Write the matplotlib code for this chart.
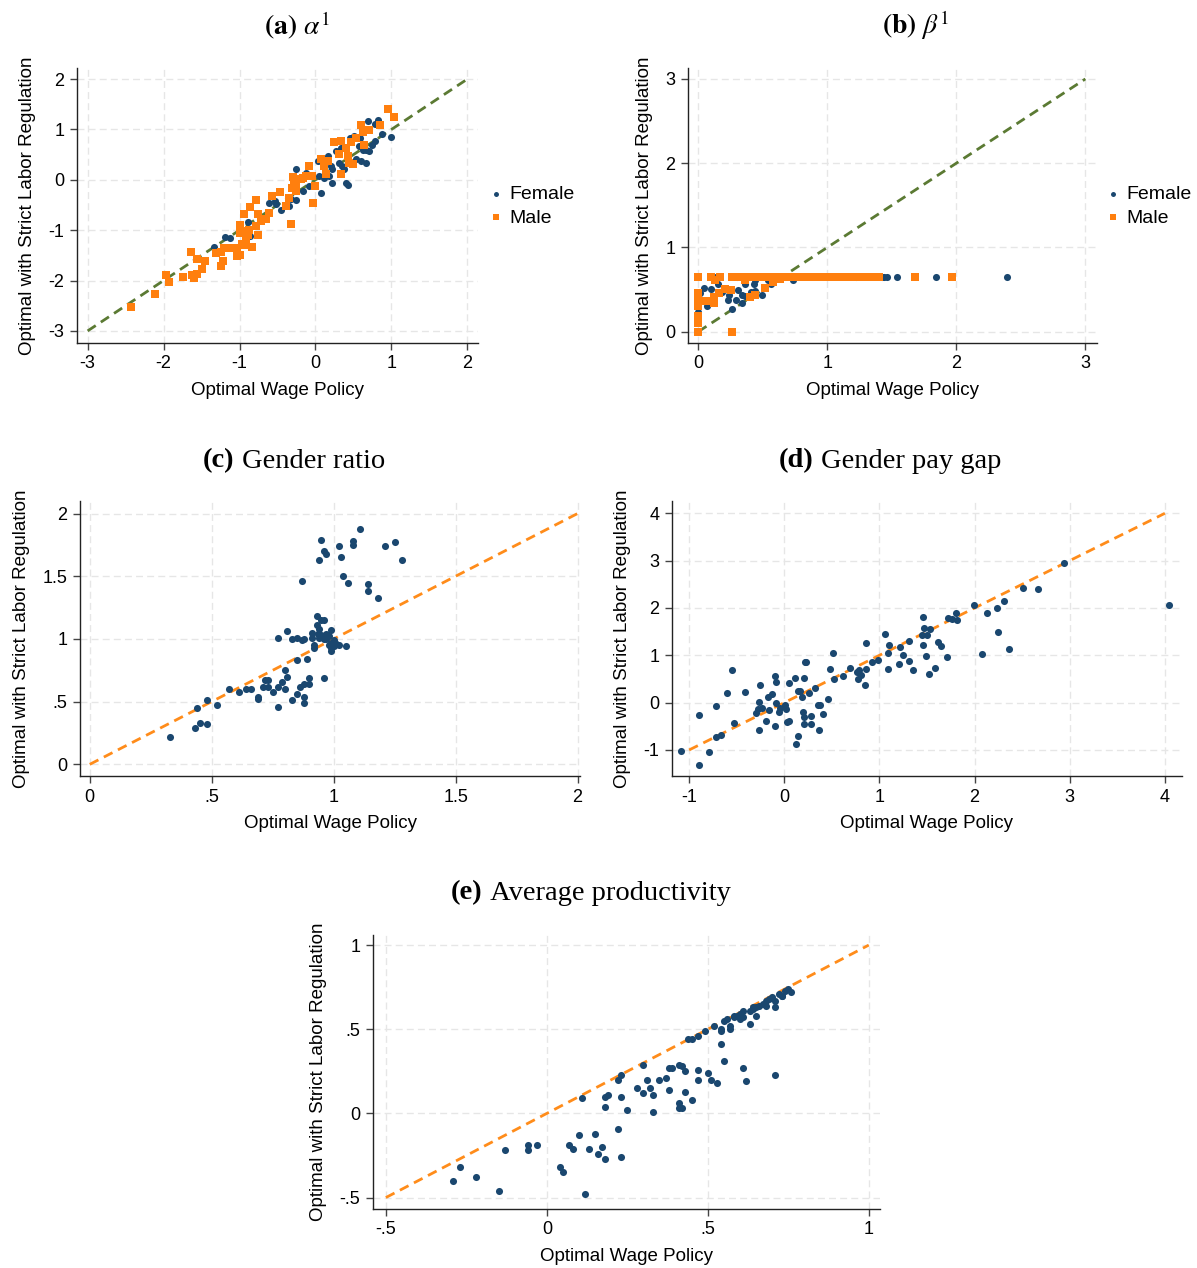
import matplotlib
matplotlib.use("Agg")
import matplotlib.pyplot as plt
import numpy as np

plt.rcParams['font.family'] = ['Liberation Sans', 'DejaVu Sans']
plt.rcParams['mathtext.fontset'] = 'stix'

NAVY = '#1a476f'
ORANGE = '#ff7f0e'
ORANGE_LINE = '#ff8c1a'
GREEN_LINE = '#5b7a33'
GRID = '#e6e6e6'

# ---------------- Panel (a): alpha^1 ----------------
a_male_x = [-2.43, -2.11, -1.97, -1.93, -1.74, -1.64, -1.62, -1.60, -1.56, -1.56, -1.49, -1.45,
            -1.31, -1.25, -1.20, -1.13, -1.22, -1.24, -1.03, -1.00, -0.97, -0.94, -0.92, -0.99,
            -0.96, -0.89, -0.87, -0.83, -0.76, -0.78, -0.99, -0.94, -0.86, -0.78, -0.76, -0.72,
            -0.65, -0.61, -0.57, -0.47, -0.39, -0.35, -0.32, -0.31, -0.28, -0.26, -0.25, -0.21,
            -0.17, -0.13, -0.08, -0.04, -0.03, 0.00, 0.07, 0.11, 0.14, 0.25, 0.34, 0.31, 0.40,
            0.43, 0.44, 0.47, 0.49, 0.54, 0.60, 0.62, 0.64, 0.70, 0.85, 0.96, 1.03, 0.33, 0.16,
            -1.03, -0.30, -0.19]
a_male_y = [-2.52, -2.26, -1.88, -2.02, -1.92, -1.44, -1.89, -1.94, -1.87, -1.57, -1.78, -1.61,
            -1.45, -1.44, -1.36, -1.35, -1.61, -1.72, -1.36, -1.50, -1.27, -1.29, -1.22, -1.06,
            -1.02, -1.09, -0.99, -1.34, -1.09, -0.92, -0.90, -0.67, -0.54, -0.41, -0.67, -0.82,
            -0.78, -0.66, -0.33, -0.25, -0.52, -0.36, -0.88, -0.16, -0.11, -0.23, -0.09, 0.01,
            0.04, 0.07, 0.27, 0.07, -0.46, -0.13, 0.41, 0.27, 0.11, 0.75, 0.77, 0.52, 0.64,
            0.47, 0.34, 0.75, 0.31, 0.84, 1.08, 0.94, 0.70, 0.99, 1.09, 1.40, 1.24, 0.11, 0.37,
            -1.52, 0.06, 0.01]
a_female_x = [-1.34, -1.19, -1.13, -0.89, -0.86, -0.61, -0.53, -0.45, -0.52, -0.32, -0.26, -0.17,
              -0.13, -0.08, 0.03, 0.07, 0.05, 0.11, 0.17, 0.18, 0.20, 0.22, 0.27, 0.33, 0.35,
              0.38, 0.40, 0.43, 0.46, 0.51, 0.53, 0.57, 0.58, 0.60, 0.62, 0.66, 0.67, 0.69,
              0.71, 0.75, 0.79, 0.82, 0.78, 0.87, 0.99, 0.31, 0.22, -0.26, -0.35]
a_female_y = [-1.33, -1.14, -1.16, -0.84, -1.12, -0.47, -0.42, -0.59, -0.49, -0.39, 0.21, -0.23,
              0.14, -0.13, 0.37, -0.27, 0.07, 0.04, 0.48, 0.07, 0.27, -0.06, 0.57, 0.64, 0.27,
              0.21, -0.06, -0.11, 0.84, 0.87, 0.41, 0.68, 0.84, 0.37, 0.60, 0.33, 0.60, 1.17,
              0.57, 0.70, 0.77, 1.19, 1.10, 0.90, 0.85, 0.34, 0.21, -0.41, -0.52]

# ---------------- Panel (b): beta^1 ----------------
b_male_x = [0.00, 0.00, 0.00, 0.00, 0.00, 0.00, 0.00, 0.06, 0.12, 0.12, 0.13, 0.16, 0.21, 0.25,
            0.26, 0.36, 0.40, 0.44, 0.52, 0.58, 0.63,
            0.00, 0.10, 0.17, 0.26, 0.31, 0.33, 0.35, 0.37, 0.39, 0.41, 0.43, 0.45, 0.47, 0.50,
            0.52, 0.54, 0.57, 0.59, 0.62, 0.64, 0.67, 0.70, 0.72, 0.75, 0.78, 0.80, 0.83,
            0.86, 0.88, 0.91, 0.94, 0.97, 1.00, 1.03, 1.06, 1.09, 1.12, 1.15, 1.18, 1.21,
            1.24, 1.27, 1.30, 1.33, 1.36, 1.39, 1.40, 1.68, 1.97]
b_male_y = [0.46, 0.38, 0.30, 0.18, 0.10, 0.00, 0.42, 0.36, 0.41, 0.34, 0.61, 0.46, 0.51, 0.49,
            0.00, 0.61, 0.41, 0.44, 0.52, 0.59, 0.63,
            0.654, 0.654, 0.654, 0.654, 0.654, 0.654, 0.654, 0.654, 0.654, 0.654, 0.654, 0.654,
            0.654, 0.654, 0.654, 0.654, 0.654, 0.654, 0.654, 0.654, 0.654, 0.654, 0.654, 0.654,
            0.654, 0.654, 0.654, 0.654, 0.654, 0.654, 0.654, 0.654, 0.654, 0.654, 0.654, 0.654,
            0.654, 0.654, 0.654, 0.654, 0.654, 0.654, 0.654, 0.654, 0.654, 0.654, 0.654, 0.654,
            0.654]
b_female_x = [0.044, 0.013, 0.07, 0.10, 0.15, 0.18, 0.23, 0.24, 0.26, 0.29, 0.31, 0.34, 0.34,
              0.36, 0.36, 0.41, 0.43, 0.44, 0.44, 0.49, 0.54, 0.56, 0.73, 0.00,
              0.14, 0.30, 0.52, 0.74, 1.22, 1.42, 1.44, 1.46, 1.54, 1.84, 2.39]
b_female_y = [0.52, 0.46, 0.31, 0.51, 0.57, 0.47, 0.37, 0.44, 0.27, 0.37, 0.50, 0.34, 0.44,
              0.42, 0.57, 0.47, 0.57, 0.61, 0.48, 0.44, 0.61, 0.57, 0.61, 0.23,
              0.654, 0.654, 0.654, 0.654, 0.654, 0.654, 0.654, 0.654, 0.654, 0.654, 0.654]

# ---------------- Panel (c): Gender ratio ----------------
c_x = [0.33, 0.43, 0.45, 0.48, 0.44, 0.48, 0.52, 0.57, 0.61, 0.64, 0.66, 0.69, 0.69, 0.71, 0.72,
       0.73, 0.73, 0.75, 0.77, 0.77, 0.77, 0.79, 0.80, 0.80, 0.81, 0.81, 0.83, 0.83, 0.85, 0.85,
       0.85, 0.86, 0.87, 0.87, 0.88, 0.88, 0.88, 0.88, 0.89, 0.90, 0.90, 0.91, 0.91, 0.92, 0.93,
       0.93, 0.94, 0.94, 0.94, 0.95, 0.95, 0.96, 0.96, 0.96, 0.97, 0.97, 0.97, 0.98, 0.99, 0.99,
       0.99, 1.00, 1.01, 1.02, 1.02, 1.03, 1.04, 1.05, 1.06, 1.08, 1.08, 1.11, 1.14, 1.14, 1.18,
       1.21, 1.25, 1.28, 0.935, 0.95, 0.96, 0.98, 0.99, 1.00, 1.01, 0.92]
c_y = [0.22, 0.29, 0.33, 0.32, 0.45, 0.51, 0.47, 0.60, 0.58, 0.60, 0.60, 0.54, 0.52, 0.62, 0.67,
       0.67, 0.62, 0.58, 0.62, 0.46, 1.01, 0.66, 0.75, 0.60, 1.06, 0.70, 1.00, 0.51, 0.56, 0.83,
       1.01, 0.62, 1.46, 0.99, 1.00, 0.64, 0.54, 0.49, 0.84, 0.64, 0.69, 1.05, 1.01, 0.93, 1.18,
       1.11, 1.08, 1.63, 1.01, 1.15, 1.79, 0.69, 1.70, 1.15, 1.04, 1.68, 1.00, 0.95, 1.07, 0.90,
       0.93, 0.99, 0.96, 1.74, 0.95, 1.65, 1.50, 0.94, 1.45, 1.75, 1.78, 1.88, 1.44, 1.38, 1.33,
       1.74, 1.77, 1.63, 1.04, 1.03, 1.00, 1.02, 0.97, 0.94, 0.96, 0.95]

# ---------------- Panel (d): Gender pay gap ----------------
d_x = [-1.09, -0.90, -0.90, -0.79, -0.72, -0.66, -0.72, -0.60, -0.55, -0.53, -0.41, -0.30, -0.28,
       -0.27, -0.27, -0.26, -0.23, -0.19, -0.17, -0.16, -0.13, -0.10, -0.10, -0.09, -0.09, -0.06,
       -0.05, 0.01, 0.02, 0.03, 0.05, 0.05, 0.11, 0.12, 0.14, 0.14, 0.16, 0.19, 0.20, 0.21, 0.21,
       0.21, 0.22, 0.23, 0.26, 0.28, 0.28, 0.32, 0.35, 0.36, 0.38, 0.41, 0.46, 0.48, 0.51, 0.52,
       0.62, 0.69, 0.76, 0.77, 0.79, 0.81, 0.85, 0.86, 0.86, 0.92, 0.99, 1.06, 1.09, 1.09, 1.10,
       1.21, 1.22, 1.25, 1.31, 1.31, 1.35, 1.45, 1.46, 1.46, 1.47, 1.49, 1.50, 1.52, 1.53, 1.58,
       1.62, 1.65, 1.71, 1.72, 1.76, 1.80, 1.82, 1.99, 2.08, 2.13, 2.24, 2.25, 2.31, 2.36, 2.51,
       2.67, 2.94, 4.04]
d_y = [-1.02, -1.32, -0.26, -1.04, -0.73, -0.69, -0.08, 0.20, 0.69, -0.43, 0.23, -0.21, -0.14,
       0.02, -0.57, 0.38, -0.11, -0.39, 0.12, -0.15, 0.18, -0.49, 0.56, 0.44, -0.01, -0.20,
       -0.11, -0.04, -0.14, -0.40, 0.42, -0.39, 0.51, -0.88, 0.25, -0.70, 0.24, 0.12, -0.20, 0.51,
       -0.30, -0.46, 0.85, 0.85, 0.21, -0.29, -0.46, 0.30, -0.06, -0.57, -0.06, -0.24, 0.08, 0.72,
       1.05, 0.49, 0.56, 0.74, 0.65, 0.49, 0.68, 0.58, 0.38, 1.26, 0.71, 0.85, 0.90, 1.44, 0.72,
       1.05, 1.22, 0.81, 1.18, 1.01, 1.31, 0.87, 0.69, 1.43, 1.80, 1.22, 1.57, 0.99, 1.43, 0.60,
       1.56, 0.73, 1.29, 1.20, 0.97, 1.78, 1.76, 1.89, 1.74, 2.06, 1.02, 1.90, 2.00, 1.50, 2.14,
       1.13, 2.42, 2.41, 2.96, 2.06]

# ---------------- Panel (e): Average productivity ----------------
e_x = [-0.29, -0.27, -0.22, -0.15, -0.13, -0.06, -0.06, -0.03, 0.04, 0.05, 0.07, 0.08, 0.10, 0.11,
       0.12, 0.13, 0.15, 0.16, 0.17, 0.18, 0.18, 0.18, 0.19, 0.22, 0.22, 0.23, 0.23, 0.23, 0.25,
       0.28, 0.30, 0.30, 0.31, 0.32, 0.33, 0.33, 0.35, 0.37, 0.38, 0.38, 0.39, 0.41, 0.41, 0.41,
       0.42, 0.42, 0.43, 0.43, 0.44, 0.45, 0.45, 0.47, 0.47, 0.47, 0.49, 0.50, 0.51, 0.52, 0.53,
       0.54, 0.54, 0.54, 0.55, 0.55, 0.56, 0.57, 0.57, 0.58, 0.59, 0.60, 0.60, 0.61, 0.61, 0.61,
       0.62, 0.63, 0.63, 0.64, 0.65, 0.65, 0.66, 0.67, 0.68, 0.68, 0.69, 0.70, 0.71, 0.71, 0.71,
       0.72, 0.73, 0.73, 0.74, 0.75, 0.76, 0.64, 0.60, 0.58]
e_y = [-0.40, -0.32, -0.38, -0.46, -0.22, -0.19, -0.22, -0.19, -0.32, -0.35, -0.19, -0.21, -0.13,
       0.09, -0.48, -0.21, -0.12, -0.24, -0.20, 0.04, -0.27, 0.10, 0.11, -0.09, 0.20, 0.10, 0.23,
       -0.26, 0.02, 0.15, 0.29, 0.12, 0.20, 0.15, 0.01, 0.11, 0.20, 0.21, 0.14, 0.27, 0.27, 0.29,
       0.03, 0.06, 0.28, 0.03, 0.13, 0.25, 0.44, 0.08, 0.44, 0.26, 0.20, 0.46, 0.49, 0.24, 0.20,
       0.52, 0.18, 0.50, 0.49, 0.41, 0.55, 0.31, 0.56, 0.50, 0.52, 0.58, 0.58, 0.56, 0.59, 0.57,
       0.27, 0.61, 0.19, 0.53, 0.61, 0.63, 0.58, 0.63, 0.64, 0.65, 0.67, 0.64, 0.68, 0.69, 0.23,
       0.63, 0.67, 0.71, 0.70, 0.70, 0.73, 0.74, 0.72, 0.62, 0.57, 0.57]

# tick specs
a_ticks = [-3, -2, -1, 0, 1, 2]
a_ticklabels = ['-3', '-2', '-1', '0', '1', '2']
b_ticks = [0, 1, 2, 3]
b_ticklabels = ['0', '1', '2', '3']
c_ticks = [0, 0.5, 1, 1.5, 2]
c_ticklabels = ['0', '.5', '1', '1.5', '2']
d_xticks = [-1, 0, 1, 2, 3, 4]
d_yticks = [-1, 0, 1, 2, 3, 4]
d_ticklabels = ['-1', '0', '1', '2', '3', '4']
e_ticks = [-0.5, 0, 0.5, 1]
e_ticklabels = ['-.5', '0', '.5', '1']

W, H = 1197, 1268
fig = plt.figure(figsize=(W / 100, H / 100), dpi=100)


def make_ax(l, t, r, b):
    return fig.add_axes([l / W, 1 - b / H, (r - l) / W, (b - t) / H])


def style(ax, xt, xtl, yt, ytl, xlim, ylim):
    ax.set_xlim(*xlim)
    ax.set_ylim(*ylim)
    ax.set_xticks(xt)
    ax.set_xticklabels(xtl)
    ax.set_yticks(yt)
    ax.set_yticklabels(ytl)
    for s in ['top', 'right']:
        ax.spines[s].set_visible(False)
    for s in ['left', 'bottom']:
        ax.spines[s].set_color('#222222')
        ax.spines[s].set_linewidth(1.0)
    ax.tick_params(axis='both', direction='out', length=5, width=1.0, color='#444444',
                   labelsize=13, pad=4)
    ax.grid(True, color=GRID, linestyle=(0, (5, 3)), linewidth=1.0)
    ax.set_axisbelow(True)
    ax.set_xlabel('Optimal Wage Policy', fontsize=13.5, labelpad=7)
    ax.set_ylabel('Optimal with Strict Labor Regulation', fontsize=13.5, labelpad=9)


def add_legend(ax, left_px, yc_px):
    ax.legend(loc='center left', bbox_to_anchor=(left_px / W, 1 - yc_px / H),
              bbox_transform=fig.transFigure, frameon=False, fontsize=14,
              handlelength=0.6, handletextpad=0.4, markerscale=0.7, borderpad=0,
              borderaxespad=0, labelspacing=0.3)


# Panel a
ax = make_ax(77, 68, 478, 343)
ax.plot([-3, 2], [-3, 2], color=GREEN_LINE, linestyle=(0, (3.5, 2.2)), linewidth=2, zorder=1)
ax.scatter(a_female_x, a_female_y, s=26, color=NAVY, marker='o', linewidths=0, zorder=2, label='Female')
ax.scatter(a_male_x, a_male_y, s=36, color=ORANGE, marker='s', linewidths=0, zorder=3, label='Male')
style(ax, a_ticks, a_ticklabels, a_ticks, a_ticklabels, (-3.14, 2.14), (-3.24, 2.22))
add_legend(ax, 490, 206)

# Panel b
ax = make_ax(688, 68, 1097, 343)
ax.plot([0, 3], [0, 3], color=GREEN_LINE, linestyle=(0, (3.5, 2.2)), linewidth=2, zorder=1)
ax.scatter(b_female_x, b_female_y, s=26, color=NAVY, marker='o', linewidths=0, zorder=2, label='Female')
ax.scatter(b_male_x, b_male_y, s=36, color=ORANGE, marker='s', linewidths=0, zorder=3, label='Male')
style(ax, b_ticks, b_ticklabels, b_ticks, b_ticklabels, (-0.08, 3.09), (-0.135, 3.13))
add_legend(ax, 1107, 206)

# Panel c
ax = make_ax(80, 501, 580, 776)
ax.plot([0, 2], [0, 2], color=ORANGE_LINE, linestyle=(0, (3.5, 2.2)), linewidth=2, zorder=1)
ax.scatter(c_x, c_y, s=26, color=NAVY, marker='o', linewidths=0, zorder=2)
style(ax, c_ticks, c_ticklabels, c_ticks, c_ticklabels, (-0.04, 2.01), (-0.093, 2.1))

# Panel d
ax = make_ax(672, 501, 1182, 776)
ax.plot([-1, 4], [-1, 4], color=ORANGE_LINE, linestyle=(0, (3.5, 2.2)), linewidth=2, zorder=1)
ax.scatter(d_x, d_y, s=26, color=NAVY, marker='o', linewidths=0, zorder=2)
style(ax, d_xticks, d_ticklabels, d_yticks, d_ticklabels, (-1.18, 4.18), (-1.55, 4.26))

# Panel e
ax = make_ax(373, 935, 880, 1209)
ax.plot([-0.5, 1], [-0.5, 1], color=ORANGE_LINE, linestyle=(0, (3.5, 2.2)), linewidth=2, zorder=1)
ax.scatter(e_x, e_y, s=26, color=NAVY, marker='o', linewidths=0, zorder=2)
style(ax, e_ticks, e_ticklabels, e_ticks, e_ticklabels, (-0.54, 1.035), (-0.568, 1.06))

# Titles
serif = ['Liberation Serif', 'DejaVu Serif']
fig.text(297 / W, 1 - 25 / H, r'$\mathbf{(a)}\ \alpha^{1}$', ha='center', va='center', fontsize=20)
fig.text(916 / W, 1 - 25 / H, r'$\mathbf{(b)}\ \beta^{1}$', ha='center', va='center', fontsize=20)
fig.canvas.draw()
r = fig.canvas.get_renderer()
for xc, yc, tag, txt in [(294, 461, '(c)', 'Gender ratio'),
                         (890, 461, '(d)', 'Gender pay gap'),
                         (591, 893, '(e)', 'Average productivity')]:
    t1 = fig.text(0, 0, tag, fontsize=20.5, family=serif, weight='bold', va='center')
    t2 = fig.text(0, 0, '\u00a0' + txt, fontsize=20.5, family=serif, va='center')
    w1 = t1.get_window_extent(r).width
    w2 = t2.get_window_extent(r).width
    x0 = xc - (w1 + w2) / 2
    t1.set_position((x0 / W, 1 - yc / H))
    t2.set_position(((x0 + w1) / W, 1 - yc / H))

fig.savefig('out.png', dpi=100, facecolor='white')
